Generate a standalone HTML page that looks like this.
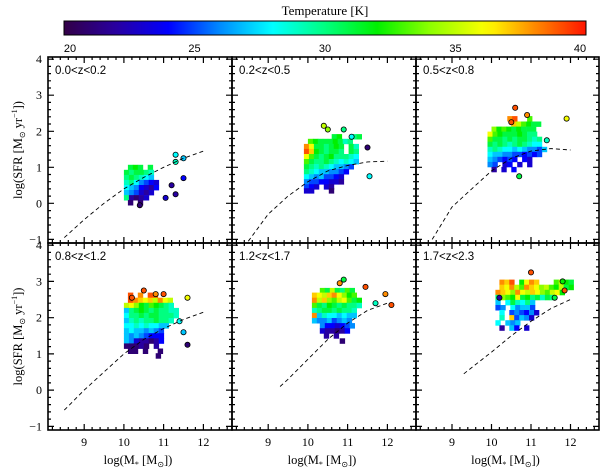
<!DOCTYPE html>
<html><head><meta charset="utf-8"><style>
html,body{margin:0;padding:0;background:#fff;}
svg{display:block;}
</style></head><body>
<svg id="chart" width="600" height="469" viewBox="0 0 600 469" xmlns="http://www.w3.org/2000/svg"></svg>
<script>
// ---- data ----
const xTicks = [9, 10, 11, 12];
const yTicks = [-1, 0, 1, 2, 3, 4];
const cbTicks = [20, 25, 30, 35, 40];
const panelLabels = ["0.0<z<0.2", "0.2<z<0.5", "0.5<z<0.8", "0.8<z<1.2", "1.2<z<1.7", "1.7<z<2.3"];

// main-sequence dashed curves (mass, sfr)
const msMass = [
  [8.5, 9, 9.5, 10, 10.5, 11, 11.5, 12],
  [8.5, 9, 9.5, 10, 10.5, 11, 11.5, 12],
  [8.5, 9, 9.5, 10, 10.5, 11, 11.5, 12],
  [8.5, 9, 9.5, 10, 10.5, 11, 11.5, 12],
  [9.3, 9.5, 10, 10.5, 11, 11.5, 12],
  [9.3, 10, 10.5, 11, 11.5, 12]
];
const msSfr = [
  [-0.95, -0.45, 0.0, 0.4, 0.72, 1.0, 1.25, 1.45],
  [-1.05, -0.3, 0.2, 0.6, 0.9, 1.05, 1.15, 1.17],
  [-1.0, -0.1, 0.4, 0.9, 1.25, 1.45, 1.52, 1.48],
  [-0.55, 0.0, 0.5, 1.0, 1.4, 1.7, 1.95, 2.15],
  [0.1, 0.3, 0.85, 1.4, 1.85, 2.2, 2.4],
  [0.45, 1.05, 1.5, 1.9, 2.25, 2.5]
];

// binned cells: per panel rows of [sfr, start mass, temps...]
const rowSfr = [
  [1.0, 0.86, 0.72, 0.58, 0.44, 0.30, 0.16, 0.02],
  [1.85, 1.72, 1.58, 1.44, 1.30, 1.16, 1.02, 0.88, 0.74, 0.60, 0.46, 0.35],
  [2.35, 2.2, 2.06, 1.92, 1.78, 1.64, 1.50, 1.36, 1.22, 1.08, 0.94],
  [2.62, 2.48, 2.34, 2.20, 2.06, 1.92, 1.78, 1.64, 1.50, 1.36, 1.22, 1.08, 0.95],
  [2.75, 2.62, 2.48, 2.34, 2.20, 2.06, 1.92, 1.78, 1.64, 1.50, 1.36],
  [2.98, 2.84, 2.70, 2.56, 2.42, 2.28, 2.14, 2.00, 1.86, 1.72]
];
const rowStart = [
  [10.1, 10.0, 10.0, 10.0, 10.0, 10.0, 10.0, 10.1],
  [10.6, 10.0, 9.9, 9.9, 9.9, 9.9, 9.9, 9.9, 9.9, 9.9, 9.9, 9.9],
  [10.4, 10.5, 10.0, 9.9, 9.9, 9.9, 9.9, 9.9, 9.9, 9.9, 10.0],
  [10.1, 10.1, 10.0, 10.0, 10.0, 10.0, 10.0, 10.0, 10.0, 10.0, 10.0, 10.1, 10.8],
  [10.3, 10.1, 10.1, 10.1, 10.1, 10.1, 10.1, 10.3, 10.3, 10.4, 10.8],
  [10.2, 10.2, 10.1, 10.1, 10.1, 10.1, 10.2, 10.2, 10.1, 10.2]
];
const rowTemps = [
  [[31,32,31,null,31],[31,30,31,31,30,29],[30,31,30,29,28,27],[29,30,28,26,25,24,23],[28,27,26,24,23,22,24],[27,26,25,23,22,23],[30,22,21,22,23],[21,null,21]],
  [[31,32,null,null,30,31],[33,32,31,31,31,32,31,29,30],[38,36,31,31,30,31,32,31,null,31,29],[39,37,32,31,30,31,31,30,null,31,30],[36,33,31,30,31,32,30,30,30,29,28],[33,31,30,30,31,30,29,28,29,28,27],[31,30,29,30,29,28,27,27,26,25],[30,29,28,27,27,26,26,25,24],[28,27,26,27,25,25,24,23],[26,25,25,24,24,23,23,22],[25,24,23,null,23,22],[23,23,null,null,null,21]],
  [[38,39,null,null,33],[37,35,33,32,31,31],[34,32,33,32,31,32,31,31,31],[36,33,32,31,31,31,32,31,30,30],[33,31,31,30,31,30,31,31,30,29,30],[31,30,31,30,29,30,31,30,29,28,28],[29,30,29,28,28,27,28,27,26,26,25,27],[28,27,27,26,26,25,25,24,25,24,25],[27,26,25,24,25,24,null,24,23],[26,25,null,23,24,null,23,null,23],[22,null,23,null,24]],
  [[39,null,38,null,39,39],[39,38,37,36,37,35,38,36,35],[35,36,34,32,31,33,32,31,30,29],[27,30,31,32,31,30,31,30,30,29,29],[28,30,30,31,30,31,31,30,30,30,29],[27,29,30,29,30,30,31,30,30,29],[28,28,29,28,29,28,28,27,27],[27,28,27,27,26,27,26,25],[27,26,27,26,25,24,24,24],[27,26,23,22,22,21,22,24],[21,21,21,22,21,null,22],[21,21,null,21,null,null,21],[21]],
  [[33,31,35,31,30,33,31],[37,36,35,37,38,36,34,32,33],[38,35,37,34,33,35,36,33,31,32],[33,31,30,32,31,30,31,30,30,29],[29,30,31,31,30,31,30,30,29],[38,27,29,28,28,27,28,27,27],[27,26,26,27,25,26,27,26],[26,24,24,23,24,25,26],[23,22,22,21,22,24],[22,null,22],[21]],
  [[38,37,39,null,32,36,38,37,null,null,null,33,35,32,31],[37,36,38,35,33,38,37,36,34,35,33,32,35,31,32],[38,37,36,34,38,36,35,37,36,34,33,35,36,32],[30,34,33,32,36,31,32,30,31,29,31,30],[27,null,28,31,29,28,30,27],[25,26,null,28,26,27,27,25],[28,null,25,26,25,24,26,23],[29,null,37,25,27,26,23],[28,null,27,26,27],[22,null,27,24,null,23]]
];

// individual outlier points
const ptMass = [
  [11.3, 11.5, 11.3, 11.5, 11.2, 11.3, 11.05, 10.4],
  [10.4, 10.5, 10.9, 11.1, 11.5, 11.55],
  [10.6, 10.9, 11.9, 10.5, 11.4, 10.7],
  [10.2, 10.5, 10.8, 11.0, 11.6, 11.4, 11.5, 11.6],
  [10.8, 10.9, 11.45, 11.95, 12.1, 11.7],
  [11.0, 10.2, 11.6, 11.85, 11.8]
];
const ptSfr = [
  [1.35, 1.25, 1.15, 0.7, 0.5, 0.25, 0.15, -0.05],
  [2.15, 2.05, 2.05, 1.85, 1.55, 0.75],
  [2.65, 2.45, 2.35, 2.25, 1.75, 0.75],
  [2.55, 2.75, 2.65, 2.65, 2.55, 1.9, 1.6, 1.25],
  [2.95, 3.05, 2.85, 2.65, 2.35, 2.4],
  [3.25, 2.55, 2.55, 2.75, 3.0]
];
const ptTemp = [
  [28, 27, 29, 24, 22, 22, 23, 21],
  [35, 34, 30, 28, 21, 28],
  [39, 38, 36, 39, 29, 31],
  [39, 39, 38, 39, 36, 28, 27, 21],
  [38, 31, 39, 38, 39, 29],
  [39, 22, 31, 39, 32]
];

// ---- geometry ----
const NS = "http://www.w3.org/2000/svg";
const svg = document.getElementById("chart");
const colL = [48, 232, 416], colW = [184, 184, 183];
const rowT = [57, 243], rowH = [186, 187];
const XMIN = 8.09, XMAX = 12.72, YMIN = -1.1, YMAX = 4.06;
const CW = 0.125, CH = 0.14;

const stops = [[20,[50,0,70]],[22,[40,0,160]],[24,[0,0,255]],[26,[0,140,255]],[28,[0,255,255]],[30,[0,255,128]],[32,[0,240,0]],[34,[140,255,0]],[36.2,[255,255,0]],[38,[255,140,0]],[40,[255,20,0]]];
function tcol(t){
  if(t<=stops[0][0]) return rgb(stops[0][1]);
  for(let i=1;i<stops.length;i++){
    if(t<=stops[i][0]){
      const a=stops[i-1],b=stops[i],f=(t-a[0])/(b[0]-a[0]);
      return rgb(a[1].map((v,k)=>v+(b[1][k]-v)*f));
    }
  }
  return rgb(stops[stops.length-1][1]);
}
function rgb(c){return "rgb("+c.map(v=>Math.round(v)).join(",")+")";}
function el(tag, attrs, parent){
  const e=document.createElementNS(NS,tag);
  for(const k in attrs) e.setAttribute(k,attrs[k]);
  (parent||svg).appendChild(e);
  return e;
}

// ---- colorbar ----
const cbX0=64, cbX1=586, cbY=21, cbH=14;
const defs=el("defs",{});
const grad=el("linearGradient",{id:"cbg",x1:"0",x2:"1",y1:"0",y2:"0"},defs);
for(let t=20;t<=40;t+=0.5){
  el("stop",{offset:((t-20)/20).toFixed(3),"stop-color":tcol(t)},grad);
}
const cbRect=el("rect",{x:cbX0,y:cbY,width:cbX1-cbX0,height:cbH,fill:"url(#cbg)",stroke:"#000","stroke-width":1});


const cbTitle=el("text",{x:(cbX0+cbX1)/2,y:15,"text-anchor":"middle","font-family":"Liberation Serif, serif","font-size":"13"});
cbTitle.textContent="Temperature [K]";


cbTicks.forEach((t,i)=>{
  const x=cbX0+(t-20)/20*(cbX1-cbX0);
  const tx=el("text",{x:x+(i===0?6:i===cbTicks.length-1?-6:0),y:52,"text-anchor":"middle","font-family":"Liberation Sans, sans-serif","font-size":"11"});
  tx.textContent=t;
  
  
});

// ---- panels ----
for(let p=0;p<6;p++){
  const c=p%3, r=Math.floor(p/3);
  const L=colL[c], W=colW[c], T=rowT[r], H=rowH[r];
  const sx=v=>L+(v-XMIN)/(XMAX-XMIN)*W;
  const sy=v=>T+H-(v-YMIN)/(YMAX-YMIN)*H;
  const g=el("g",{});
  
  

  rowSfr[p].forEach((s,ri)=>{
    rowTemps[p][ri].forEach((t,ci)=>{
      if(t===null) return;
      const m=rowStart[p][ri]+ci*CW;
      const x=sx(m), y=sy(s+CH/2);
      const rc=el("rect",{x:x.toFixed(1),y:y.toFixed(1),width:(sx(m+CW)-x+0.4).toFixed(1),height:(sy(s)-sy(s+CH)+0.4).toFixed(1),fill:tcol(t)},g);
      
      
    });
  });
  ptMass[p].forEach((m,i)=>{
    const ci=el("circle",{cx:sx(m).toFixed(1),cy:sy(ptSfr[p][i]).toFixed(1),r:2.6,fill:tcol(ptTemp[p][i]),stroke:"#000","stroke-width":0.8},g);
    
    
  });
  const d=msMass[p].map((m,i)=>(i?"L":"M")+sx(m).toFixed(1)+","+sy(msSfr[p][i]).toFixed(1)).join(" ");
  const pl=el("path",{d:d,fill:"none",stroke:"#000","stroke-width":0.9,"stroke-dasharray":"4,3"},g);
  
  

  const fr=el("rect",{x:L,y:T,width:W,height:H,fill:"none",stroke:"#000","stroke-width":1.6},g);
  
  
  let tp="";
  for(let v=8.2;v<=12.7;v+=0.2){
    const x=sx(v), major=Math.abs(v-Math.round(v))<0.01, len=major?6:3;
    tp+=`M${x.toFixed(1)},${T+H}v${-len}M${x.toFixed(1)},${T}v${len}`;
  }
  for(let v=-1;v<=4.01;v+=0.2){
    const y=sy(v), major=Math.abs(v-Math.round(v))<0.01, len=major?6:3;
    tp+=`M${L},${y.toFixed(1)}h${len}M${L+W},${y.toFixed(1)}h${-len}`;
  }
  const tk=el("path",{d:tp,stroke:"#000","stroke-width":1.2,fill:"none"},g);
  
  

  const lbl=el("text",{x:L+7,y:T+17,"font-family":"Liberation Sans, sans-serif","font-size":"11.5"},g);
  lbl.textContent=panelLabels[p];
  
  

  if(c===0){
    yTicks.forEach(v=>{
      const ty=el("text",{x:L-6,y:sy(v)+4,"text-anchor":"end","font-family":"Liberation Serif, serif","font-size":"12"});
      ty.textContent=v<0?"\u2212"+(-v):v;
      
      
    });
    const yt=el("text",{transform:`translate(22,${T+H/2}) rotate(-90)`,"text-anchor":"middle","font-family":"Liberation Serif, serif","font-size":"12.5"});
    yt.innerHTML='log(SFR [M<tspan font-size="8" dy="3">\u2299</tspan><tspan dy="-3"> yr</tspan><tspan font-size="8" dy="-5">\u22121</tspan><tspan dy="5">])</tspan>';
    
    
  }
  if(r===1){
    xTicks.forEach(v=>{
      const tx=el("text",{x:sx(v),y:446,"text-anchor":"middle","font-family":"Liberation Serif, serif","font-size":"12"});
      tx.textContent=v;
      
      
    });
    const xt=el("text",{x:L+W/2-2,y:464,"text-anchor":"middle","font-family":"Liberation Serif, serif","font-size":"12.5"});
    xt.innerHTML='log(M<tspan font-size="8" dy="3">*</tspan><tspan dy="-3"> [M</tspan><tspan font-size="8" dy="3">\u2299</tspan><tspan dy="-3">])</tspan>';
    
    
  }
}
</script>
</body></html>
